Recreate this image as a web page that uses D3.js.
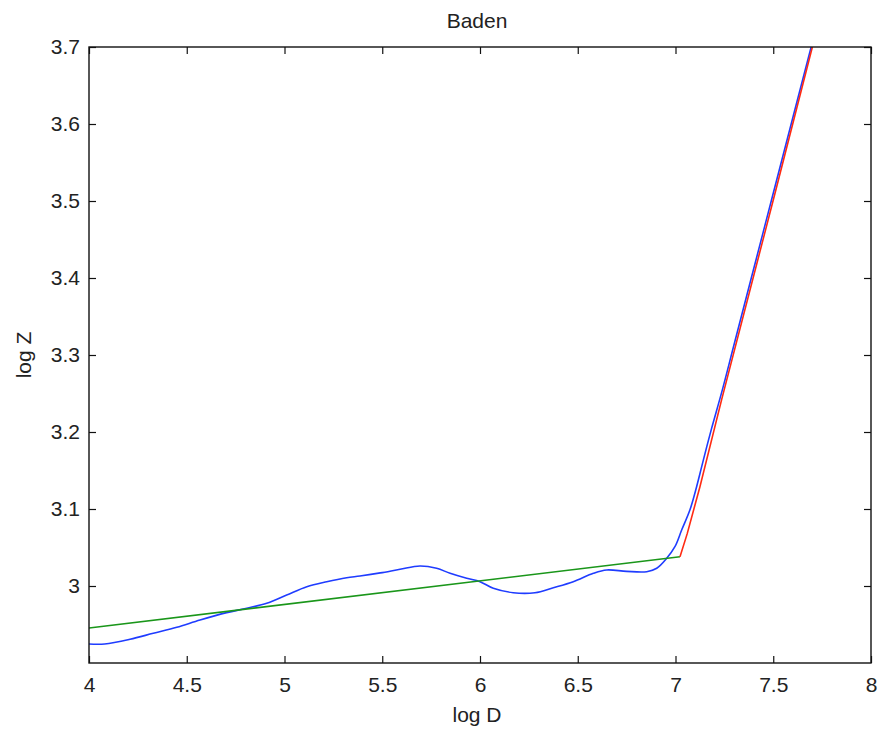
<!DOCTYPE html>
<html>
<head>
<meta charset="utf-8">
<script src="https://cdn.jsdelivr.net/npm/d3@7/dist/d3.min.js"></script>
<style>
  html, body { margin: 0; padding: 0; background: #ffffff; }
  svg { display: block; }
  text { font-family: "Liberation Sans", Arial, sans-serif; fill: #222; }
</style>
</head>
<body>
<svg id="chart" width="881" height="733"></svg>
<script>
// ---- data ----
const titleText = "Baden";
const xLabel = "log D";
const yLabel = "log Z";

const xTicks = [4, 4.5, 5, 5.5, 6, 6.5, 7, 7.5, 8];
const yTicks = [3.0, 3.1, 3.2, 3.3, 3.4, 3.5, 3.6, 3.7];

// blue: observed curve (log D, log Z)
const blueX = [4.0, 4.08, 4.21, 4.329, 4.449, 4.568, 4.704, 4.807, 4.909, 5.011, 5.114, 5.216, 5.318, 5.386, 5.49, 5.591, 5.693, 5.778, 5.847, 5.932, 6.0, 6.068, 6.17, 6.281, 6.375, 6.477, 6.58, 6.648, 6.75, 6.853, 6.904, 6.955, 6.997, 7.032, 7.074, 7.108, 7.134, 7.16, 7.185, 7.24, 7.296, 7.398, 7.500, 7.602, 7.697];
const blueY = [2.9247, 2.9247, 2.9308, 2.9386, 2.9464, 2.9558, 2.9654, 2.9711, 2.9775, 2.9883, 2.9991, 3.0056, 3.0108, 3.013, 3.017, 3.0217, 3.026, 3.023, 3.0165, 3.010, 3.0056, 2.997, 2.9913, 2.9913, 2.9978, 3.0056, 3.0165, 3.0208, 3.019, 3.0186, 3.023, 3.036, 3.051, 3.073, 3.099, 3.129, 3.155, 3.181, 3.205, 3.255, 3.31, 3.41, 3.51, 3.61, 3.703];

// green: low-scale linear fit
const greenX = [4.0, 7.023];
const greenY = [2.9455, 3.038];

// red: high-scale linear fit
const redX = [7.023, 7.06, 7.125, 7.236, 7.509, 7.70];
const redY = [3.038, 3.068, 3.129, 3.242, 3.510, 3.70];

const blueColor = "#1f3cff";
const greenColor = "#1a961a";
const redColor = "#ff2a12";

// ---- layout ----
const svg = d3.select("#chart");
const mLeft = 89, mRight = 871, mTop = 47, mBottom = 663;
const fontSize = 21;
const tickLen = 7;

const x = d3.scaleLinear().domain([4, 8]).range([mLeft, mRight]);
const y = d3.scaleLinear().domain([2.9, 3.7]).range([mBottom, mTop]);

const fmt = d => String(+(+d).toFixed(1));

// lines
const line = d3.line().x(d => x(d[0])).y(d => y(d[1]));
const lineSmooth = d3.line().x(d => x(d[0])).y(d => y(d[1])).curve(d3.curveCatmullRom.alpha(0.5));

svg.append("clipPath").attr("id", "clip")
  .append("rect").attr("x", mLeft).attr("y", mTop).attr("width", mRight - mLeft).attr("height", mBottom - mTop);
const plot = svg.append("g").attr("clip-path", "url(#clip)");

plot.append("path")
  .datum(blueX.map((v, i) => [v, blueY[i]]))
  .attr("d", lineSmooth)
  .attr("fill", "none").attr("stroke", blueColor).attr("stroke-width", 1.6);

plot.append("path")
  .datum(greenX.map((v, i) => [v, greenY[i]]))
  .attr("d", line)
  .attr("fill", "none").attr("stroke", greenColor).attr("stroke-width", 1.6);

plot.append("path")
  .datum(redX.map((v, i) => [v, redY[i]]))
  .attr("d", line)
  .attr("fill", "none").attr("stroke", redColor).attr("stroke-width", 1.6);

// axes
function styleAxis(g) {
  g.select(".domain").remove();
  g.selectAll(".tick line").attr("stroke", "#111").attr("stroke-width", 1.2);
  g.selectAll(".tick text").style("font-size", fontSize + "px").attr("fill", "#222");
}

svg.append("g").attr("transform", `translate(0,${mBottom})`)
  .call(d3.axisBottom(x).tickValues(xTicks).tickFormat(fmt).tickSizeInner(-tickLen).tickSizeOuter(0).tickPadding(14))
  .call(styleAxis);

svg.append("g").attr("transform", `translate(0,${mTop})`)
  .call(d3.axisTop(x).tickValues(xTicks).tickFormat("").tickSizeInner(-tickLen).tickSizeOuter(0))
  .call(styleAxis);

svg.append("g").attr("transform", `translate(${mLeft},0)`)
  .call(d3.axisLeft(y).tickValues(yTicks).tickFormat(fmt).tickSizeInner(-tickLen).tickSizeOuter(0).tickPadding(9))
  .call(styleAxis);

svg.append("g").attr("transform", `translate(${mRight},0)`)
  .call(d3.axisRight(y).tickValues(yTicks).tickFormat("").tickSizeInner(-tickLen).tickSizeOuter(0))
  .call(styleAxis);

// frame
svg.append("rect")
  .attr("x", mLeft).attr("y", mTop).attr("width", mRight - mLeft).attr("height", mBottom - mTop)
  .attr("fill", "none").attr("stroke", "#111").attr("stroke-width", 1.4);

// titles
svg.append("text").attr("x", 477).attr("y", 28).attr("text-anchor", "middle")
  .style("font-size", fontSize + "px").text(titleText);

svg.append("text").attr("x", 477).attr("y", 722).attr("text-anchor", "middle")
  .style("font-size", fontSize + "px").text(xLabel);

svg.append("text").attr("transform", "translate(31,355) rotate(-90)").attr("text-anchor", "middle")
  .style("font-size", fontSize + "px").text(yLabel);
</script>
</body>
</html>
